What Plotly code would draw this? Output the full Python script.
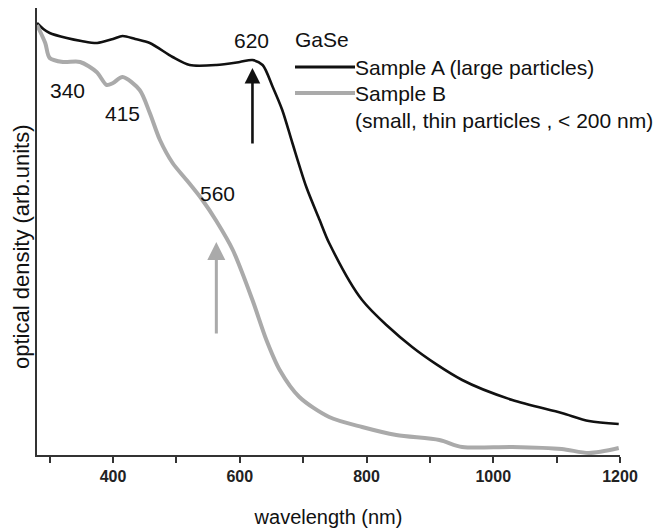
import plotly.graph_objects as go

# Sample A (large particles) - black
wl_a = [280, 290, 300, 327, 350, 375, 400, 415, 435, 458, 494, 521, 563, 600, 620, 636, 652, 667, 683, 705, 726, 741,
        793, 872, 951, 1030, 1108, 1151, 1198]
od_a = [4.32, 4.26, 4.22, 4.17, 4.14, 4.12, 4.16, 4.19, 4.16, 4.12, 3.98, 3.90, 3.90, 3.93, 3.95, 3.90, 3.68, 3.45, 3.12, 2.68, 2.35, 2.12,
        1.55, 1.08, 0.75, 0.55, 0.42, 0.34, 0.31]

# Sample B (small, thin particles) - gray
wl_b = [280, 293, 300, 321, 348, 374, 390, 400, 415, 442, 458, 474, 494, 516, 541, 563, 589, 620, 642, 663, 694, 741,
        793, 847, 915, 951, 1030, 1108, 1151, 1198]
od_b = [4.30, 4.12, 3.97, 3.93, 3.93, 3.83, 3.70, 3.72, 3.78, 3.65, 3.42, 3.15, 2.92, 2.75, 2.55, 2.34, 2.05, 1.55, 1.15, 0.85, 0.58, 0.38,
        0.28, 0.20, 0.15, 0.08, 0.08, 0.06, 0.02, 0.07]

# peak labels
peak_text = ["340", "415", "560", "620"]
peak_x = [328, 415, 565, 619]
peak_y = [3.65, 3.42, 2.62, 4.15]

# arrows (x, y_tail, y_head)
arrow_x = [620, 563]
arrow_tail = [3.10, 1.20]
arrow_head = [3.87, 2.13]
arrow_col = ["#111111", "#aaaaaa"]

xticks = [300, 400, 500, 600, 700, 800, 900, 1000, 1100, 1200]
xticklabels = ["", "<b>400</b>", "", "<b>600</b>", "", "<b>800</b>", "", "<b>1000</b>", "", "<b>1200</b>"]

FONT = "Liberation Sans, Arial, sans-serif"
FS = 21

fig = go.Figure()
fig.add_trace(go.Scatter(x=wl_a, y=od_a, mode="lines", line=dict(color="#111111", width=2.6, shape="spline", smoothing=0.8),
                         showlegend=False))
fig.add_trace(go.Scatter(x=wl_b, y=od_b, mode="lines", line=dict(color="#aaaaaa", width=4, shape="spline", smoothing=0.8),
                         showlegend=False))

for t, x, y in zip(peak_text, peak_x, peak_y):
    fig.add_annotation(x=x, y=y, text=t, showarrow=False, font=dict(family=FONT, size=FS, color="#111"))

for x, yt, yh, c in zip(arrow_x, arrow_tail, arrow_head, arrow_col):
    fig.add_annotation(x=x, y=yh, ax=x, ay=yt, xref="x", yref="y", axref="x", ayref="y", text="",
                       showarrow=True, arrowhead=2, arrowsize=1.2, arrowwidth=3 if c != "#111111" else 2.6,
                       arrowcolor=c)

# custom legend
def legend_text(txt, px, py):
    fig.add_annotation(xref="paper", yref="paper", x=(px - 37) / 583, y=(455 - py) / 447, text=txt,
                       showarrow=False, xanchor="left", yanchor="middle",
                       font=dict(family=FONT, size=FS, color="#111"))

legend_text("GaSe", 293, 40)
legend_text("Sample A (large particles)", 353, 67)
legend_text("Sample B", 353, 93)
legend_text("(small, thin particles , < 200 nm)", 353, 120)
fig.add_shape(type="line", xref="paper", yref="paper", x0=(295 - 37) / 583, x1=(355 - 37) / 583,
              y0=(455 - 67) / 447, y1=(455 - 67) / 447, line=dict(color="#111111", width=3))
fig.add_shape(type="line", xref="paper", yref="paper", x0=(295 - 37) / 583, x1=(355 - 37) / 583,
              y0=(455 - 93) / 447, y1=(455 - 93) / 447, line=dict(color="#aaaaaa", width=4))

# y-axis title as rotated text
fig.add_annotation(xref="paper", yref="paper", x=(21 - 37) / 583, y=(455 - 247) / 447,
                   text="optical density (arb.units)", textangle=-90, showarrow=False,
                   xanchor="center", yanchor="middle", font=dict(family=FONT, size=22, color="#111"))

fig.update_layout(
    width=653, height=520,
    margin=dict(l=29, r=41, t=0, b=73),
    plot_bgcolor="white", paper_bgcolor="white",
    font=dict(family=FONT, color="#111"),
    xaxis=dict(range=[280, 1200], tickvals=xticks, ticktext=xticklabels, ticks="outside", ticklen=6,
               tickwidth=1.5, tickcolor="#333", showline=True, linecolor="#333", linewidth=1.5,
               showgrid=False, zeroline=False, tickfont=dict(size=16, family=FONT, color="#222"),
               automargin=False,
               title=dict(text="wavelength (nm)", font=dict(size=20, family=FONT), standoff=28)),
    yaxis=dict(range=[0, 4.47], showticklabels=False, ticks="", showline=True, linecolor="#333", linewidth=1.5,
               showgrid=False, zeroline=False, automargin=False),
)

fig.write_html("out.html")
